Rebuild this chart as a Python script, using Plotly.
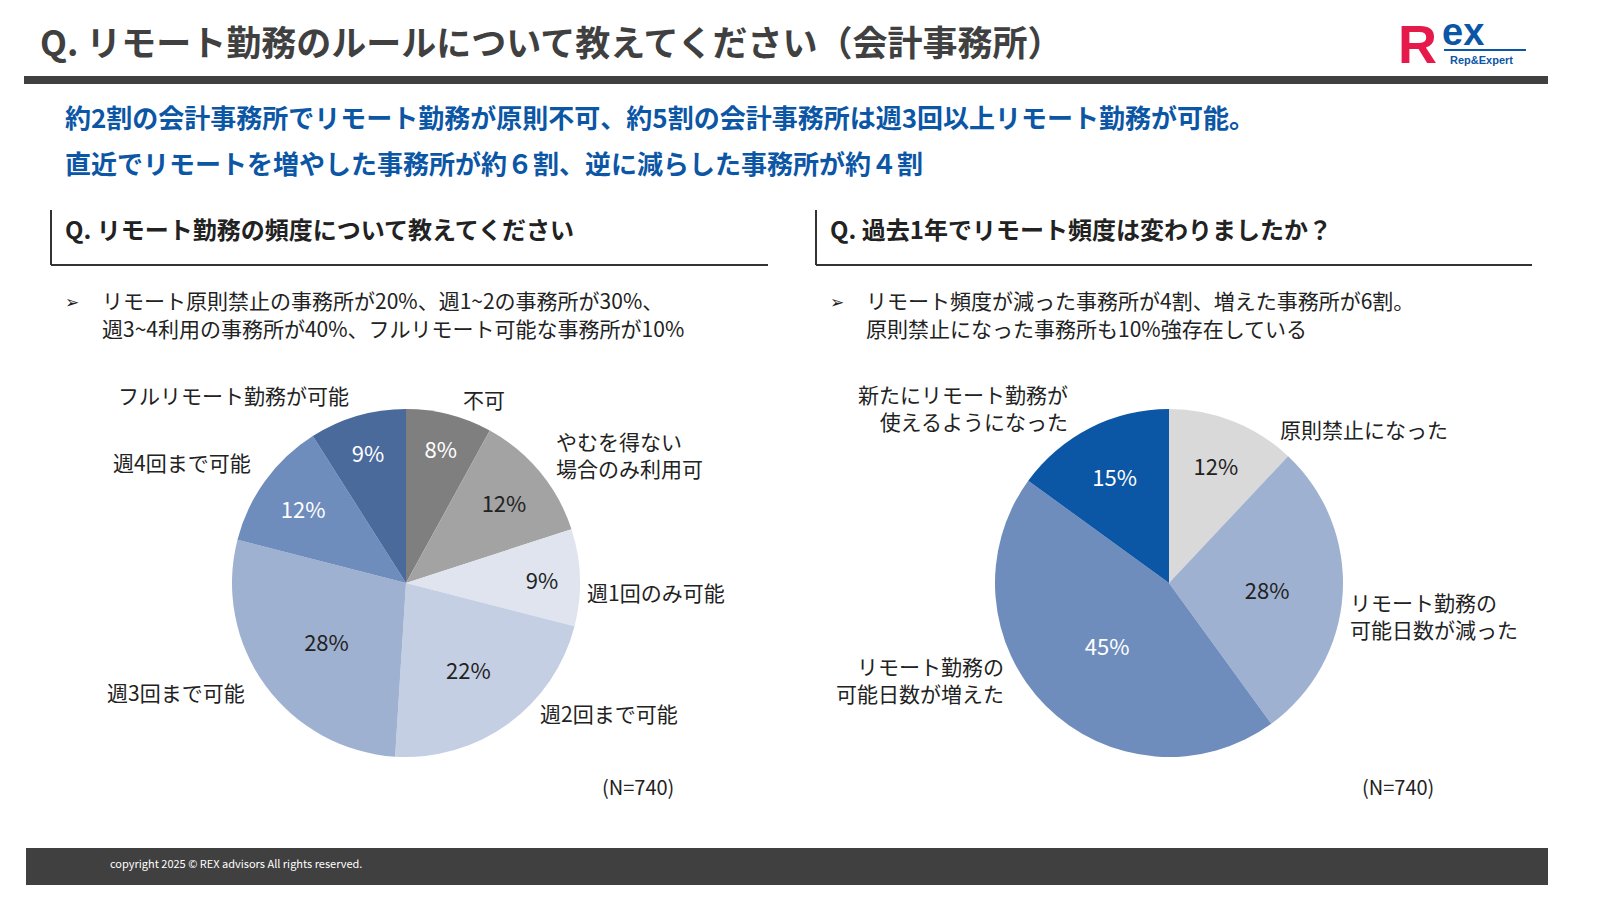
import plotly.graph_objects as go

# data
left_labels = ["不可", "やむを得ない場合のみ利用可", "週1回のみ可能", "週2回まで可能",
               "週3回まで可能", "週4回まで可能", "フルリモート勤務が可能"]
left_values = [8, 12, 9, 22, 28, 12, 9]
left_colors = ["#7f7f7f", "#a3a3a3", "#dfe4ee", "#c5cfe3", "#9fb1d0", "#6e8dbd", "#4b6a9c"]
left_text_colors = ["white", "#222", "#222", "#222", "#222", "white", "white"]

right_labels = ["原則禁止になった", "リモート勤務の可能日数が減った",
                "リモート勤務の可能日数が増えた", "新たにリモート勤務が使えるようになった"]
right_values = [12, 28, 45, 15]
right_colors = ["#d9d9d9", "#9fb1d0", "#6e8dbd", "#0b56a5"]
right_text_colors = ["#222", "#222", "white", "white"]

W, H = 1600, 900
FONT = "Noto Sans CJK JP"

def px(x):
    return x / W

def py(y):
    return 1 - y / H

fig = go.Figure()

for labels, values, colors, tcols, cx in [
    (left_labels, left_values, left_colors, left_text_colors, 398),
    (right_labels, right_values, right_colors, right_text_colors, 1161),
]:
    r = 174
    fig.add_trace(go.Pie(
        labels=labels, values=values, sort=False, direction="clockwise", rotation=0,
        marker=dict(colors=colors, line=dict(width=0)),
        texttemplate="%{value}%", textposition="inside", insidetextorientation="horizontal",
        textfont=dict(size=22, color=tcols, family=FONT),
        domain=dict(x=[px(cx - r), px(cx + r)], y=[py(575 + r), py(575 - r)]),
        showlegend=False, hoverinfo="label+percent",
    ))

shapes = [
    dict(type="rect", x0=px(16), x1=px(1540), y0=py(76), y1=py(68), fillcolor="#404040", line_width=0),
    dict(type="rect", x0=px(18), x1=px(1540), y0=py(877), y1=py(840), fillcolor="#404040", line_width=0),
    dict(type="line", x0=px(43), x1=px(43), y0=py(202), y1=py(257), line=dict(color="#333", width=2)),
    dict(type="line", x0=px(43), x1=px(760), y0=py(257), y1=py(257), line=dict(color="#333", width=2)),
    dict(type="line", x0=px(808), x1=px(808), y0=py(202), y1=py(257), line=dict(color="#333", width=2)),
    dict(type="line", x0=px(808), x1=px(1524), y0=py(257), y1=py(257), line=dict(color="#333", width=2)),
    dict(type="line", x0=px(1436), x1=px(1518), y0=py(42), y1=py(42), line=dict(color="#0b56a5", width=2)),
]

def txt(x, y, s, size=20, color="#222", xanchor="left", bold=False, align="left"):
    if bold:
        s = "<b>" + s + "</b>"
    return dict(x=px(x), y=py(y), xref="paper", yref="paper", text=s, showarrow=False,
                xanchor=xanchor, yanchor="middle", align=align,
                font=dict(size=size, color=color, family=FONT))

ann = [
    txt(30, 32, "Q. リモート勤務のルールについて教えてください（会計事務所）", 35, "#404040", bold=True),
    txt(55, 108, "約2割の会計事務所でリモート勤務が原則不可、約5割の会計事務所は週3回以上リモート勤務が可能。", 26, "#0b56a5", bold=True),
    txt(55, 154, "直近でリモートを増やした事務所が約６割、逆に減らした事務所が約４割", 26, "#0b56a5", bold=True),
    txt(55, 220, "Q. リモート勤務の頻度について教えてください", 24, "#222", bold=True),
    txt(820, 220, "Q. 過去1年でリモート頻度は変わりましたか？", 24, "#222", bold=True),
    txt(55, 292, "➢", 17),
    txt(92, 292, "リモート原則禁止の事務所が20%、週1~2の事務所が30%、", 21),
    txt(92, 320, "週3~4利用の事務所が40%、フルリモート可能な事務所が10%", 21),
    txt(820, 292, "➢", 17),
    txt(856, 292, "リモート頻度が減った事務所が4割、増えた事務所が6割。", 21),
    txt(856, 320, "原則禁止になった事務所も10%強存在している", 21),
    # left pie labels
    txt(108, 387, "フルリモート勤務が可能", 21),
    txt(453, 391, "不可", 21),
    txt(546, 447, "やむを得ない<br>場合のみ利用可", 21),
    txt(103, 454, "週4回まで可能", 21),
    txt(577, 584, "週1回のみ可能", 21),
    txt(97, 684, "週3回まで可能", 21),
    txt(530, 705, "週2回まで可能", 21),
    txt(592, 778, "(N=740)", 20),
    # right pie labels
    txt(1062, 399, "新たにリモート勤務が<br>使えるようになった", 21, xanchor="right", align="right"),
    txt(1270, 421, "原則禁止になった", 21),
    txt(1340, 607, "リモート勤務の<br>可能日数が減った", 21),
    txt(998, 671, "リモート勤務の<br>可能日数が増えた", 21, xanchor="right", align="right"),
    txt(1352, 778, "(N=740)", 20),
    txt(100, 855, "copyright 2025 © REX advisors All rights reserved.", 11, "white"),
    # logo
    dict(x=px(1388), y=py(36), xref="paper", yref="paper", xanchor="left", yanchor="middle",
         text="<b>R</b>", showarrow=False, font=dict(size=54, color="#e6194b", family="Liberation Sans")),
    dict(x=px(1432), y=py(24), xref="paper", yref="paper", xanchor="left", yanchor="middle",
         text="<b>ex</b>", showarrow=False, font=dict(size=38, color="#0b56a5", family="Liberation Sans")),
    dict(x=px(1440), y=py(52), xref="paper", yref="paper", xanchor="left", yanchor="middle",
         text="<b>Rep&Expert</b>", showarrow=False, font=dict(size=11, color="#0b56a5", family="Liberation Sans")),
]

fig.update_layout(width=W, height=H, margin=dict(l=0, r=0, t=0, b=0),
                  paper_bgcolor="white", plot_bgcolor="white",
                  shapes=shapes, annotations=ann, font=dict(family=FONT))

fig.write_html("out.html")
